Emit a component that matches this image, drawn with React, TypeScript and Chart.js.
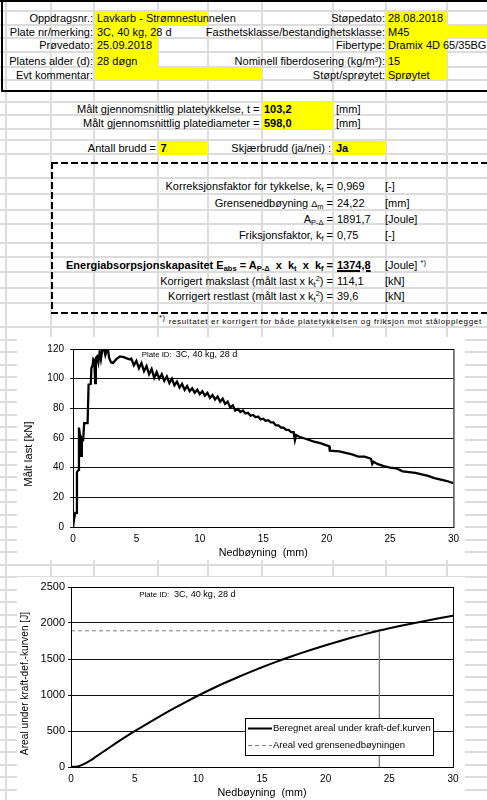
import React, { useEffect, useRef } from "react";
import { Chart, registerables } from "chart.js";
Chart.register(...registerables);

// ---------------- DATA ----------------
const headerLeftLabels = ["Oppdragsnr.:", "Plate nr/merking:", "Prøvedato:", "Platens alder (d):", "Evt kommentar:"];
const headerLeftValues = ["Lavkarb - Strømnestunnelen", "3C, 40 kg, 28 d", "25.09.2018", "28 døgn", ""];
const headerRightLabels = ["Støpedato:", "Fasthetsklasse/bestandighetsklasse:", "Fibertype:", "Nominell fiberdosering (kg/m³):", "Støpt/sprøytet:"];
const headerRightValues = ["28.08.2018", "M45", "Dramix 4D 65/35BG", "15", "Sprøytet"];

const thickness = "103,2";
const diameter = "598,0";
const crackCount = "7";
const shearCrack = "Ja";
const ktValue = "0,969";
const deltaM = "24,22";
const apDelta = "1891,7";
const kfValue = "0,75";
const eAbs = "1374,8";
const maxLoadCorr = "114,1";
const residualCorr = "39,6";
const plateId = "3C, 40 kg, 28 d";

// Load–deflection curve (mm, kN)
const loadDeflection = [
  0, 0.08, 0.18, 0.28, 0.31, 0.45, 0.47, 0.55, 0.62, 0.65, 0.7, 0.8, 0.88, 1.15, 1.23, 1.4, 1.45, 1.55, 1.6, 1.68,
  1.75, 1.8, 1.9, 2.0, 2.1, 2.2, 2.3, 2.45, 2.55, 2.65, 2.75, 2.85, 3.0, 3.15, 3.4, 3.7, 4.0, 4.3, 4.5,
  4.6, 4.8, 5.0, 5.2, 5.4, 5.6, 5.8, 6.0, 6.2, 6.4, 6.6, 6.8, 7.0, 7.2, 7.4, 7.6, 7.8, 8.0, 8.2, 8.4, 8.6, 8.8,
  9.0, 9.2, 9.4, 9.6, 9.8, 10.0, 10.2, 10.4, 10.6, 10.8, 11.0, 11.2, 11.4, 11.6, 11.8, 12.0, 12.2, 12.4, 12.6,
  12.8, 13.0, 13.2, 13.4, 13.6, 13.8, 14.0, 14.2, 14.4, 14.6, 14.8, 15.0, 15.2, 15.4, 15.6, 15.8, 16.0, 16.2,
  16.4, 16.6, 16.8, 17.0, 17.2, 17.4, 17.5, 17.6, 17.8, 18.5, 19.0, 19.5, 20.0, 20.2, 20.25, 21.0, 21.5, 22.0,
  22.5, 23.0, 23.5, 23.6, 23.7, 24.0, 24.5, 25.0, 25.5, 26.0, 26.5, 27.0, 27.5, 28.0, 28.5, 29.0, 29.5, 30.0,
];
const loadKN = [
  0, 5, 9.5, 9.5, 37, 38.5, 67, 62, 61, 48, 58, 58.5, 70, 70, 96, 96.5, 107, 109, 113, 112,
  97, 114, 115, 111, 118, 113, 119, 120, 116, 119, 120, 114, 111, 110.5, 113, 115, 114.5, 113.5, 113,
  113.5, 109, 112, 107, 110.5, 105, 108.5, 103, 106.5, 100.5, 104.5, 100, 103, 98.5, 101.5, 97, 100, 95.5, 98, 94, 96.5, 92.5,
  95, 91.5, 93.5, 90.5, 92.5, 89.5, 91.5, 88.5, 90.5, 87, 89, 86, 88, 84.5, 86.5, 83, 84.5, 80.5, 82,
  78.5, 79.5, 77.5, 78.5, 76.5, 77, 75, 75.5, 74, 74.5, 72.5, 73, 71.5, 72, 70.5, 70.5, 68.5, 68.5,
  67, 67, 65.5, 65.5, 64, 64, 58.5, 62, 61, 59, 57.5, 56.5, 55, 54.5, 51.5, 51, 50, 49,
  47.5, 47.5, 46, 42.5, 44, 42.5, 41, 40, 39.5, 37.5, 37, 36.5, 35.5, 34.5, 33, 32, 31, 29.5,
];

// Energy curve (mm, J)
const energyDeflection = [0, 0.5, 1, 1.5, 2, 2.5, 3, 3.5, 4, 4.5, 5, 6, 7, 8, 9, 10, 11, 12, 13, 14, 15, 16, 17, 18, 19, 20, 21, 22, 23, 24, 25, 26, 27, 28, 29, 30];
const energyJ = [0, 8, 40, 88, 148, 208, 268, 328, 387, 443, 497, 603, 706, 806, 902, 993, 1080, 1163, 1240, 1314, 1385, 1453, 1517, 1578, 1636, 1691, 1744, 1794, 1842, 1886, 1926, 1964, 2001, 2036, 2069, 2100];
const limitDeflection = 24.22;
const limitEnergy = 1891.7;

const seriesEnergyLabel = "Beregnet areal under kraft-def.kurven";
const seriesLimitLabel = "Areal ved grensenedbøyningen";

// ---------------- LAYOUT ----------------
const W = 487;
const FONT = '"Liberation Sans", Arial, Helvetica, sans-serif';
const GRID = "#dcdcdc";

const colLines = [6, 51, 94, 158, 208, 262, 333, 386, 447];
const rowLinesTop = [11, 25, 38, 52, 67, 80, 102, 115, 129, 140, 154, 178, 194, 210, 224, 243, 257, 272, 288, 303, 327];
const rowLines: number[] = [...rowLinesTop];
for (let y = 339.5; y < 800; y += 12.5) rowLines.push(Math.round(y));

const headerRowCenters = [17.5, 31.5, 44.5, 60.5, 74.5];
const headerRowTops = [11, 25, 38, 52, 67];
const headerRowBottoms = [25, 38, 52, 67, 80];
const leftFillRight = [208, 158, 158, 158, 262];
const rightFillRight = [447, 487, 447, 447, 447];

// ---------------- PLUGINS ----------------
const framePlugin = {
  id: "frame",
  afterDraw(chart: any) {
    const { ctx, chartArea: a } = chart;
    ctx.save();
    ctx.strokeStyle = "#000";
    ctx.lineWidth = 1;
    ctx.strokeRect(a.left + 0.5, a.top + 0.5, a.right - a.left, a.bottom - a.top);
    ctx.restore();
  },
};

const plotTextPlugin = {
  id: "plotText",
  afterDraw(chart: any, _args: any, opts: any) {
    if (!opts || !opts.items) return;
    const { ctx } = chart;
    ctx.save();
    ctx.fillStyle = "#000";
    ctx.textBaseline = "middle";
    for (const it of opts.items) {
      ctx.save();
      ctx.font = `${it.size}px ${FONT}`;
      ctx.translate(it.x, it.y);
      if (it.rotate) ctx.rotate(it.rotate);
      ctx.textAlign = it.align || "left";
      ctx.fillText(it.text, 0, 0);
      ctx.restore();
    }
    ctx.restore();
  },
};

const legendBoxPlugin = {
  id: "legendBox",
  afterDraw(chart: any, _args: any, opts: any) {
    if (!opts || !opts.display) return;
    const { ctx, chartArea: a } = chart;
    const x0 = a.left + opts.offsetX;
    const y0 = a.top + opts.offsetY;
    ctx.save();
    ctx.fillStyle = "#fff";
    ctx.fillRect(x0, y0, opts.width, opts.height);
    ctx.strokeStyle = "#000";
    ctx.lineWidth = 1;
    ctx.strokeRect(x0 + 0.5, y0 + 0.5, opts.width, opts.height);
    const items = chart.data.datasets.filter((d: any) => d.label);
    items.forEach((d: any, i: number) => {
      const cy = Math.round(y0 + opts.firstRow + i * opts.rowGap) + 0.5;
      ctx.beginPath();
      ctx.setLineDash(d.borderDash || []);
      ctx.strokeStyle = d.borderColor;
      ctx.lineWidth = d.borderWidth;
      ctx.moveTo(x0 + 3, cy);
      ctx.lineTo(x0 + 27, cy);
      ctx.stroke();
      ctx.setLineDash([]);
      ctx.fillStyle = "#000";
      ctx.font = `${opts.fontSize}px ${FONT}`;
      ctx.textBaseline = "middle";
      ctx.textAlign = "left";
      ctx.fillText(d.label, x0 + 28, cy);
    });
    ctx.restore();
  },
};

// ---------------- CHART HELPERS ----------------
function baseScales(opts: {
  yMax: number; yStep: number; yWidth: number; yPad: number; yTickSize: number;
}) {
  return {
    x: {
      type: "linear",
      min: 0,
      max: 30,
      ticks: { stepSize: 5, padding: 6, color: "#000", font: { family: FONT, size: 10 }, callback: (v: any) => String(v), maxRotation: 0 },
      grid: { display: false, drawTicks: false },
      border: { color: "#000", width: 1 },
      title: { display: true, text: "Nedbøyning  (mm)", color: "#000", font: { family: FONT, size: 10.75 }, padding: { top: 0, bottom: 0 } },
      afterFit: (s: any) => { s.height = 32; },
    },
    y: {
      min: 0,
      max: opts.yMax,
      ticks: { stepSize: opts.yStep, padding: opts.yPad, color: "#000", font: { family: FONT, size: opts.yTickSize }, callback: (v: any) => String(v) },
      grid: { color: "#111", lineWidth: 1, tickLength: 3, drawTicks: true },
      border: { color: "#000", width: 1 },
      afterFit: (s: any) => { s.width = opts.yWidth; },
    },
  };
}

function LoadChart() {
  const ref = useRef<HTMLCanvasElement>(null);
  useEffect(() => {
    if (!ref.current) return;
    const chart = new Chart(ref.current, {
      type: "line",
      data: {
        datasets: [
          {
            label: "Målt last",
            data: loadDeflection.map((x, i) => ({ x, y: loadKN[i] })),
            borderColor: "#000",
            borderWidth: 2.3,
            pointRadius: 0,
            tension: 0,
          },
        ],
      },
      options: {
        animation: false,
        responsive: false,
        maintainAspectRatio: false,
        layout: { padding: { top: 10, right: 10, bottom: 1, left: 0 } },
        plugins: {
          legend: { display: false },
          tooltip: { enabled: false },
          plotText: {
            items: [
              { text: "Målt last [kN]", x: 12, y: 117, size: 11.3, rotate: -Math.PI / 2, align: "center" },
              { text: "Plate ID:", x: 124.7, y: 18, size: 7.8 },
              { text: plateId, x: 158.7, y: 17.5, size: 9.1 },
            ],
          },
        },
        scales: baseScales({ yMax: 120, yStep: 20, yWidth: 56, yPad: 6, yTickSize: 10 }) as any,
      },
      plugins: [framePlugin, plotTextPlugin],
    } as any);
    return () => chart.destroy();
  }, []);
  return <canvas ref={ref} width={448} height={223} style={{ display: "block" }} />;
}

function EnergyChart() {
  const ref = useRef<HTMLCanvasElement>(null);
  useEffect(() => {
    if (!ref.current) return;
    const chart = new Chart(ref.current, {
      type: "line",
      data: {
        datasets: [
          {
            label: seriesEnergyLabel,
            data: energyDeflection.map((x, i) => ({ x, y: energyJ[i] })),
            borderColor: "#000",
            borderWidth: 2,
            pointRadius: 0,
            cubicInterpolationMode: "monotone",
          },
          {
            label: seriesLimitLabel,
            data: [{ x: 0, y: limitEnergy }, { x: limitDeflection, y: limitEnergy }],
            borderColor: "#7f7f7f",
            borderWidth: 1,
            borderDash: [4, 3],
            pointRadius: 0,
          },
          {
            label: "",
            data: [{ x: limitDeflection, y: limitEnergy }, { x: limitDeflection, y: 0 }],
            borderColor: "#7f7f7f",
            borderWidth: 1,
            pointRadius: 0,
          },
        ],
      },
      options: {
        animation: false,
        responsive: false,
        maintainAspectRatio: false,
        layout: { padding: { top: 10, right: 12, bottom: 1, left: 0 } },
        plugins: {
          legend: { display: false },
          tooltip: { enabled: false },
          legendBox: { display: true, offsetX: 174, offsetY: 131, width: 188, height: 37, firstRow: 9.7, rowGap: 17.3, fontSize: 9.5 },
          plotText: {
            items: [
              { text: "Areal under kraft-def.-kurven [J]", x: 8.5, y: 106.5, size: 10.2, rotate: -Math.PI / 2, align: "center" },
              { text: "Plate ID:", x: 122.3, y: 18, size: 7.8 },
              { text: plateId, x: 157, y: 17.5, size: 9.1 },
            ],
          },
        },
        scales: baseScales({ yMax: 2500, yStep: 500, yWidth: 54, yPad: 3, yTickSize: 11 }) as any,
      },
      plugins: [framePlugin, plotTextPlugin, legendBoxPlugin],
    } as any);
    return () => chart.destroy();
  }, []);
  return <canvas ref={ref} width={448} height={223} style={{ display: "block" }} />;
}

// ---------------- TEXT HELPERS ----------------
const abs = (o: any): React.CSSProperties => ({ position: "absolute", whiteSpace: "nowrap", lineHeight: "14px", ...o });

function R({ r, y, children, bold, style }: any) {
  return <div style={abs({ right: W - r, top: y - 7, textAlign: "right", fontWeight: bold ? "bold" : "normal", ...style })}>{children}</div>;
}
function L({ x, y, children, bold, style }: any) {
  return <div style={abs({ left: x, top: y - 7, fontWeight: bold ? "bold" : "normal", ...style })}>{children}</div>;
}
const Sub = ({ children }: any) => <sub style={{ fontSize: "7.5px", verticalAlign: "-2px", lineHeight: 0 }}>{children}</sub>;
const Sup = ({ children }: any) => <sup style={{ fontSize: "7.5px", verticalAlign: "4px", lineHeight: 0 }}>{children}</sup>;
const Box = ({ x1, x2, y1, y2, color }: any) => <div style={{ position: "absolute", left: x1, top: y1, width: x2 - x1, height: y2 - y1, background: color }} />;

export default function App() {
  return (
    <div style={{ position: "fixed", left: 0, top: 0, width: W, height: 800, overflow: "hidden", background: "#fff", fontFamily: FONT, fontSize: 11, color: "#000" }}>
      {/* sheet grid */}
      {colLines.map((x) => (
        <div key={"c" + x} style={{ position: "absolute", left: x - 1, top: 0, width: 2, height: 800, background: GRID }} />
      ))}
      {rowLines.map((y) => (
        <div key={"r" + y} style={{ position: "absolute", left: 0, top: y - 1, width: W, height: 2, background: GRID }} />
      ))}

      {/* header borders */}
      <Box x1={0} x2={W} y1={0} y2={2} color="#000" />
      <Box x1={1} x2={3} y1={0} y2={92} color="#000" />
      <Box x1={1} x2={W} y1={90} y2={92} color="#000" />

      {/* yellow fills */}
      {headerRowTops.map((t, i) => (
        <React.Fragment key={"yf" + i}>
          <Box x1={95} x2={leftFillRight[i]} y1={t} y2={headerRowBottoms[i]} color="#ffff00" />
          <Box x1={386} x2={rightFillRight[i]} y1={t} y2={headerRowBottoms[i]} color="#ffff00" />
        </React.Fragment>
      ))}
      <Box x1={262} x2={333} y1={102} y2={115} color="#ffff00" />
      <Box x1={262} x2={333} y1={115} y2={129} color="#ffff00" />
      <Box x1={158} x2={208} y1={141} y2={155} color="#ffff00" />
      <Box x1={333} x2={386} y1={141} y2={155} color="#ffff00" />

      {/* header texts */}
      {headerRowCenters.map((cy, i) => (
        <React.Fragment key={"ht" + i}>
          <R r={93} y={cy}>{headerLeftLabels[i]}</R>
          <L x={97} y={cy}>{headerLeftValues[i]}</L>
          <R r={385} y={cy}>{headerRightLabels[i]}</R>
          <L x={388} y={cy}>{headerRightValues[i]}</L>
        </React.Fragment>
      ))}

      {/* measured values */}
      <R r={259.5} y={108.5}>Målt gjennomsnittlig platetykkelse, t =</R>
      <L x={264} y={108.5} bold>{thickness}</L>
      <L x={336} y={108.5}>[mm]</L>
      <R r={259.5} y={122.5}>Målt gjennomsnittlig platediameter =</R>
      <L x={264} y={122.5} bold>{diameter}</L>
      <L x={336} y={122.5}>[mm]</L>
      <R r={156} y={147.5}>Antall brudd =</R>
      <L x={160.5} y={147.5} bold>{crackCount}</L>
      <R r={331} y={147.5}>Skjærbrudd (ja/nei) :</R>
      <L x={336} y={147.5} bold>{shearCrack}</L>

      {/* dashed result box */}
      <div style={{ position: "absolute", left: 51, top: 162, width: W - 51, height: 2, background: "repeating-linear-gradient(to right, #000 0 7px, transparent 7px 10px)" }} />
      <div style={{ position: "absolute", left: 51, top: 312, width: W - 51, height: 2, background: "repeating-linear-gradient(to right, #000 0 7px, transparent 7px 10px)" }} />
      <div style={{ position: "absolute", left: 51, top: 162, width: 2, height: 152, background: "repeating-linear-gradient(to bottom, #000 0 7px, transparent 7px 10px)" }} />

      <R r={333} y={186}>Korreksjonsfaktor for tykkelse, k<Sub>t</Sub> =</R>
      <L x={337} y={186}>{ktValue}</L>
      <L x={385} y={186}>[-]</L>
      <R r={333} y={202.5}>Grensenedbøyning <span style={{ fontSize: 9 }}>Δ</span><Sub>m</Sub> =</R>
      <L x={337} y={202.5}>{deltaM}</L>
      <L x={385} y={202.5}>[mm]</L>
      <R r={333} y={219}>A<Sub>P-Δ</Sub> =</R>
      <L x={337} y={219}>{apDelta}</L>
      <L x={385} y={219}>[Joule]</L>
      <R r={333} y={234.5}>Friksjonsfaktor, k<Sub>f</Sub> =</R>
      <L x={337} y={234.5}>{kfValue}</L>
      <L x={385} y={234.5}>[-]</L>
      <R r={333} y={264.5} bold>Energiabsorpsjonskapasitet E<Sub>abs</Sub> = A<Sub>P-Δ</Sub>&nbsp; x&nbsp; k<Sub>t</Sub>&nbsp; x&nbsp; k<Sub>f</Sub> =</R>
      <L x={337} y={264.5} bold style={{ textDecoration: "underline", textDecorationThickness: "1.5px" }}>{eAbs}</L>
      <L x={385} y={264.5}>[Joule] <Sup>*)</Sup></L>
      <R r={333} y={280.5}>Korrigert makslast (målt last x k<Sub>t</Sub><Sup>2</Sup>) =</R>
      <L x={337} y={280.5}>{maxLoadCorr}</L>
      <L x={385} y={280.5}>[kN]</L>
      <R r={333} y={296}>Korrigert restlast (målt last x k<Sub>t</Sub><Sup>2</Sup>) =</R>
      <L x={337} y={296}>{residualCorr}</L>
      <L x={385} y={296}>[kN]</L>

      <L x={159} y={322} style={{ fontSize: 8, letterSpacing: "0.66px" }}>
        <Sup>*)</Sup> resultatet er korrigert for både platetykkelsen og friksjon mot stålopplegget
      </L>

      {/* charts */}
      <div style={{ position: "absolute", left: 17, top: 337, width: 448, height: 223, background: "#fff" }}>
        <LoadChart />
      </div>
      <div style={{ position: "absolute", left: 17, top: 577, width: 448, height: 223, background: "#fff" }}>
        <EnergyChart />
      </div>
    </div>
  );
}
